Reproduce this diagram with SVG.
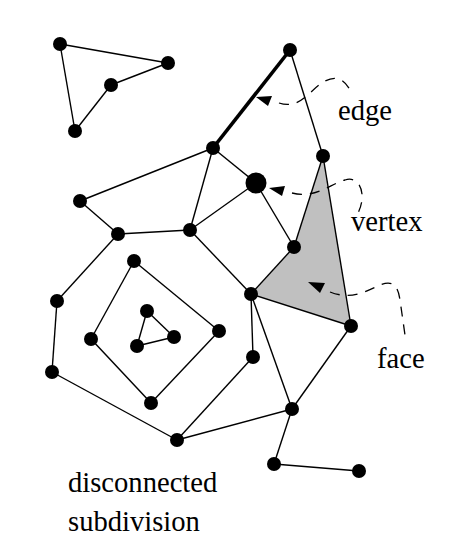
<svg xmlns="http://www.w3.org/2000/svg" width="473" height="555" viewBox="0 0 473 555">
<style>
.e{stroke:#000;stroke-width:1.4;fill:none}
.thick{stroke:#000;stroke-width:3.6;fill:none}
.d{stroke:#000;stroke-width:1.3;fill:none;stroke-dasharray:10,8}
.n{fill:#000}
.t{font-family:"Liberation Serif",serif;font-size:28.6px;fill:#000}
</style>
<rect width="473" height="555" fill="#fff"/>
<g id="face">
<polygon points="323,156 294,247 251,294 351,326" fill="#c0c0c0"/>
</g>
<g id="connectors">
<line class="e" x1="60" y1="44" x2="168" y2="63"/>
<line class="e" x1="60" y1="44" x2="75" y2="131"/>
<line class="e" x1="168" y1="63" x2="111" y2="85"/>
<line class="e" x1="111" y1="85" x2="75" y2="131"/>
<line class="thick" x1="290" y1="50" x2="213" y2="148"/>
<line class="e" x1="290" y1="50" x2="323" y2="156"/>
<line class="e" x1="323" y1="156" x2="294" y2="247"/>
<line class="e" x1="323" y1="156" x2="351" y2="326"/>
<line class="e" x1="294" y1="247" x2="251" y2="294"/>
<line class="e" x1="251" y1="294" x2="351" y2="326"/>
<line class="e" x1="256" y1="183" x2="213" y2="148"/>
<line class="e" x1="256" y1="183" x2="190" y2="230"/>
<line class="e" x1="256" y1="183" x2="294" y2="247"/>
<line class="e" x1="213" y1="148" x2="190" y2="230"/>
<line class="e" x1="213" y1="148" x2="80" y2="201"/>
<line class="e" x1="80" y1="201" x2="118" y2="234"/>
<line class="e" x1="118" y1="234" x2="190" y2="230"/>
<line class="e" x1="190" y1="230" x2="251" y2="294"/>
<line class="e" x1="118" y1="234" x2="57" y2="301"/>
<line class="e" x1="57" y1="301" x2="52" y2="372"/>
<line class="e" x1="52" y1="372" x2="177" y2="440"/>
<line class="e" x1="177" y1="440" x2="253" y2="357"/>
<line class="e" x1="253" y1="357" x2="251" y2="294"/>
<line class="e" x1="251" y1="294" x2="292" y2="409"/>
<line class="e" x1="351" y1="326" x2="292" y2="409"/>
<line class="e" x1="177" y1="440" x2="292" y2="409"/>
<line class="e" x1="292" y1="409" x2="274" y2="464"/>
<line class="e" x1="274" y1="464" x2="359" y2="471"/>
<line class="e" x1="134" y1="261" x2="91" y2="339"/>
<line class="e" x1="91" y1="339" x2="151" y2="403"/>
<line class="e" x1="151" y1="403" x2="219" y2="331"/>
<line class="e" x1="219" y1="331" x2="134" y2="261"/>
<line class="e" x1="147" y1="311" x2="174" y2="337"/>
<line class="e" x1="174" y1="337" x2="137" y2="346"/>
<line class="e" x1="137" y1="346" x2="147" y2="311"/>
</g>
<g id="nodes">
<circle class="n" cx="60" cy="44" r="7"/>
<circle class="n" cx="168" cy="63" r="7"/>
<circle class="n" cx="111" cy="85" r="7"/>
<circle class="n" cx="75" cy="131" r="7"/>
<circle class="n" cx="290" cy="50" r="7"/>
<circle class="n" cx="213" cy="148" r="7"/>
<circle class="n" cx="323" cy="156" r="7"/>
<circle id="vertex-node" class="n" cx="256" cy="183" r="10.5"/>
<circle class="n" cx="294" cy="247" r="7"/>
<circle class="n" cx="251" cy="294" r="7"/>
<circle class="n" cx="351" cy="326" r="7"/>
<circle class="n" cx="190" cy="230" r="7"/>
<circle class="n" cx="80" cy="201" r="7"/>
<circle class="n" cx="118" cy="234" r="7"/>
<circle class="n" cx="57" cy="301" r="7"/>
<circle class="n" cx="52" cy="372" r="7"/>
<circle class="n" cx="177" cy="440" r="7"/>
<circle class="n" cx="253" cy="357" r="7"/>
<circle class="n" cx="292" cy="409" r="7"/>
<circle class="n" cx="274" cy="464" r="7"/>
<circle class="n" cx="359" cy="471" r="7"/>
<circle class="n" cx="134" cy="261" r="7"/>
<circle class="n" cx="91" cy="339" r="7"/>
<circle class="n" cx="151" cy="403" r="7"/>
<circle class="n" cx="219" cy="331" r="7"/>
<circle class="n" cx="147" cy="311" r="7"/>
<circle class="n" cx="174" cy="337" r="7"/>
<circle class="n" cx="137" cy="346" r="7"/>
</g>
<g id="labels">
<path class="d" d="M 279,103 C 300,110 310,90 322,83 C 335,74 345,78 352,94"/>
<polygon class="n" points="256,97 272,96 268,106"/>
<text class="t" x="338" y="120">edge</text>
<path class="d" d="M 292,193 C 315,199 330,184 345,180 C 360,175 368,195 357,215"/>
<polygon class="n" points="269,188 285,186 282,196"/>
<text class="t" x="351" y="231">vertex</text>
<path class="d" d="M 330,292 C 350,300 365,292 378,286 C 392,279 398,285 400,300 L 405,335"/>
<polygon class="n" points="308,282 325,283 320,293"/>
<text class="t" x="377" y="368">face</text>
<text class="t" x="68" y="492">disconnected</text>
<text class="t" x="68" y="531">subdivision</text>
</g>
</svg>
